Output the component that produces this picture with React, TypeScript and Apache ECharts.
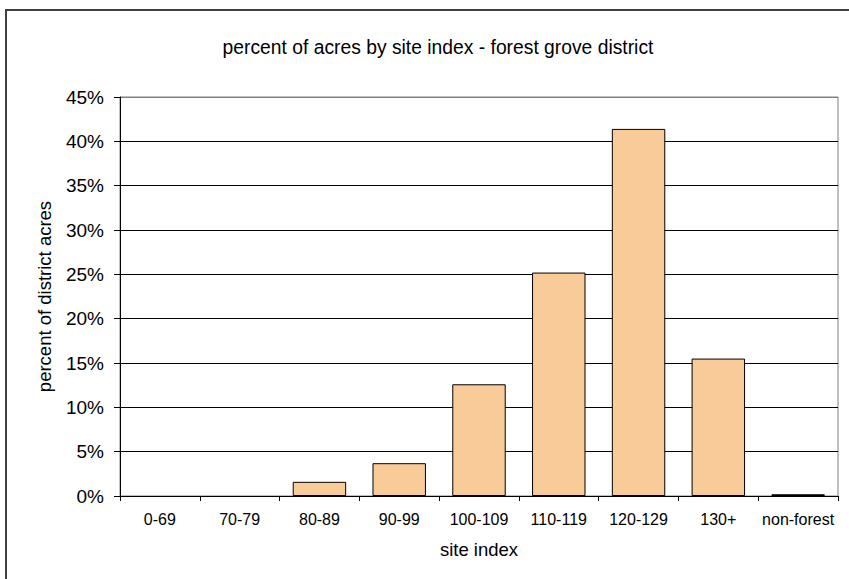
import React, { useEffect, useRef } from "react";
import * as echarts from "echarts";

const categories = ["0-69", "70-79", "80-89", "90-99", "100-109", "110-119", "120-129", "130+", "non-forest"];
const percentValues = [0, 0, 1.6, 3.7, 12.6, 25.2, 41.4, 15.5, 0.2];
const chartTitle = "percent of acres by site index - forest grove district";
const xName = "site index";
const yName = "percent of district acres";

export default function App() {
  const ref = useRef<HTMLDivElement>(null);
  useEffect(() => {
    document.body.style.margin = "0";
    const chart = echarts.init(ref.current!, null, { renderer: "svg" });
    const font = "'Liberation Sans', Arial, sans-serif";
    chart.setOption({
      animation: false,
      backgroundColor: "#fff",
      textStyle: { fontFamily: font },
      title: {
        text: chartTitle,
        left: 433,
        textAlign: "center",
        top: 33,
        textStyle: { fontFamily: font, fontSize: 19.3, fontWeight: "normal", color: "#000" },
      },
      graphic: [
        {
          type: "rect",
          shape: { x: 6, y: 10, width: 900, height: 700 },
          style: { fill: "none", stroke: "#404040", lineWidth: 2 },
          silent: true,
        },
      ],
      grid: {
        left: 120,
        right: 11,
        top: 97,
        bottom: 83,
        show: true,
        borderColor: "#808080",
        borderWidth: 1,
      },
      xAxis: {
        type: "category",
        data: categories,
        name: xName,
        nameLocation: "middle",
        nameGap: 44,
        nameTextStyle: { fontFamily: font, fontSize: 18.5, color: "#000" },
        axisLine: { lineStyle: { color: "#000", width: 1 } },
        axisTick: { show: true, length: 5, alignWithLabel: false, lineStyle: { color: "#000" } },
        axisLabel: { fontFamily: font, fontSize: 16, color: "#000", margin: 15, interval: 0 },
      },
      yAxis: {
        type: "value",
        min: 0,
        max: 45,
        interval: 5,
        name: yName,
        nameLocation: "middle",
        nameGap: 66,
        nameTextStyle: { fontFamily: font, fontSize: 18.5, color: "#000" },
        axisLine: { show: true, lineStyle: { color: "#000", width: 1 } },
        axisTick: { show: true, length: 6, lineStyle: { color: "#000" } },
        axisLabel: { fontFamily: font, fontSize: 19, color: "#000", margin: 16, formatter: "{value}%" },
        splitLine: {
          show: true,
          lineStyle: {
            color: ["#000", "#000", "#000", "#000", "#000", "#000", "#000", "#000", "#000", "#808080"],
            width: 1,
          },
        },
      },
      series: [
        {
          type: "bar",
          data: percentValues.map((v) => (v === 0 ? "-" : v)),
          barCategoryGap: "33%",
          itemStyle: { color: "#F9CB98", borderColor: "#000", borderWidth: 1 },
        },
      ],
    });
    return () => chart.dispose();
  }, []);
  return <div ref={ref} style={{ width: 849, height: 579 }} />;
}
